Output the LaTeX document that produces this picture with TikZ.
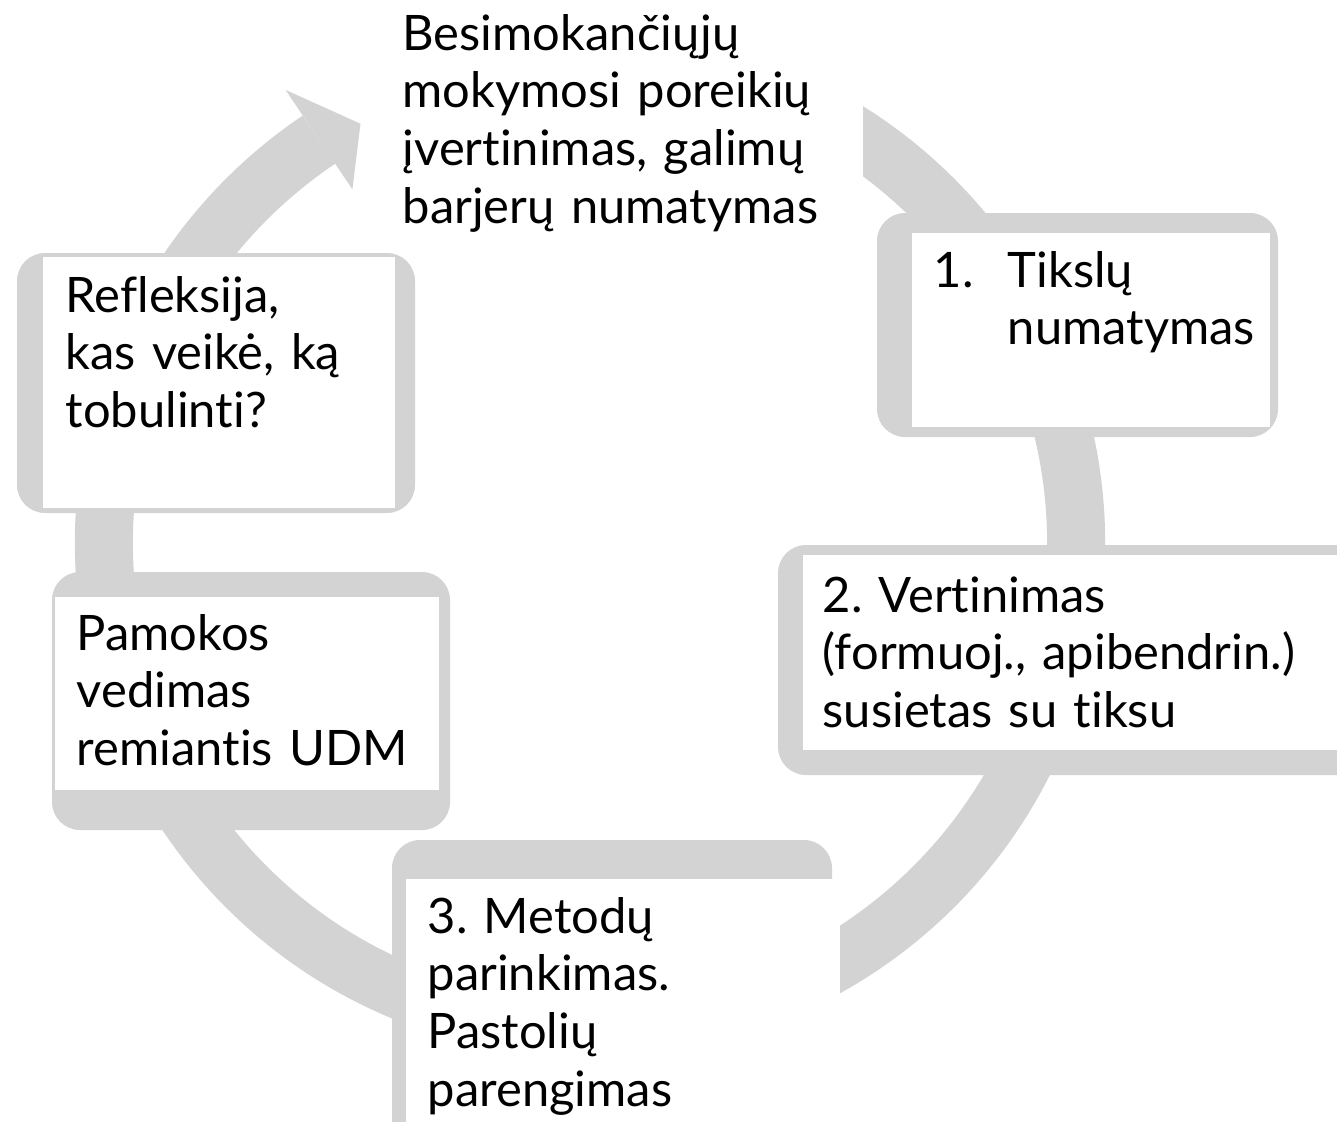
\documentclass[tikz,border=0pt]{standalone}
\usepackage{fontspec}
\setmainfont[Ligatures=NoCommon]{Lato}
\usetikzlibrary{positioning,calc}
\definecolor{ringgray}{RGB}{211,211,211}
\frenchspacing

\begin{document}
\begin{tikzpicture}[
  x=0.01cm, y=0.01cm,
  font=\fontsize{13.9}{16.4}\selectfont,
  ring/.style={draw=ringgray, line width=5.8mm},
  backplate/.style={fill=ringgray, rounded corners=2.8mm},
  card/.style={fill=white},
  boxtext/.style={anchor=base west, inner sep=0pt, align=left, text width=50mm}
]
\useasboundingbox (0,0) rectangle (1337,-1121);
\clip (0,0) rectangle (1337,-1121);

% cycle ring with its arrow head
\coordinate (ctr) at (590,-543);
\draw[ring] ([shift={(ctr)}]70:486) arc[start angle=70, end angle=-236.1, radius=486];
\fill[ringgray] ([shift={(ctr)}]123.9:546) -- ([shift={(ctr)}]118.7:478)
  -- ([shift={(ctr)}]123.9:426) -- cycle;

% top text on white ground
\fill[white] (375,0) rectangle (863,-245);
\node[boxtext] (needs) at (402,-50) {Besimokančiųjų\\mokymosi poreikių\\įvertinimas, galimų\\barjerų numatymas};

% reflection
\fill[backplate] (17,-253) rectangle (415,-513);
\fill[card] (43,-257) rectangle (395,-508);
\node[boxtext] (reflect) at (65,-312) {Refleksija,\\kas veikė, ką\\tobulinti?};

% 1. goals
\fill[backplate] (877,-213) rectangle (1278,-437);
\fill[card] (912,-233) rectangle (1270,-427);
\node[boxtext] (goals) at (933,-287) {\makebox[7.4mm][l]{1.}Tikslų\\\hspace*{7.4mm}numatymas};

% 2. assessment
\fill[backplate] (778,-545) rectangle (1400,-775);
\fill[card] (803,-555) rectangle (1400,-750);
\node[boxtext] (assess) at (822,-612) {2. Vertinimas\\(formuoj., apibendrin.)\\susietas su tiksu};

% lesson
\fill[backplate] (52,-572) rectangle (450,-830);
\fill[card] (55,-597) rectangle (439,-790);
\node[boxtext] (lesson) at (76,-650) {Pamokos\\vedimas\\remiantis UDM};

% 3. methods
\fill[backplate] (392,-840) rectangle (832,-1180);
\fill[card] (406,-879) rectangle (840,-1180);
\node[boxtext] (methods) at (427,-933) {3. Metodų\\parinkimas.\\Pastolių\\parengimas};
\end{tikzpicture}
\end{document}
